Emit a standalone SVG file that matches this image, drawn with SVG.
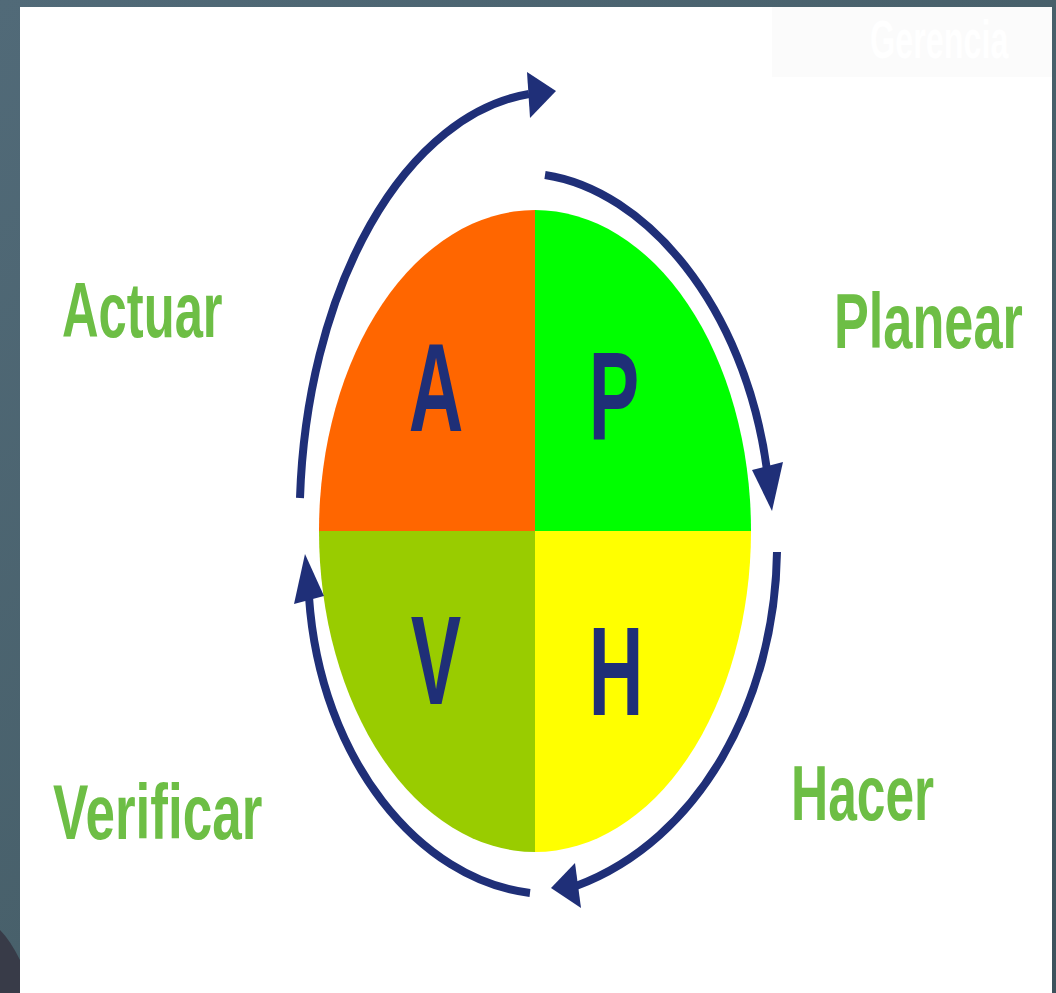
<svg xmlns="http://www.w3.org/2000/svg" width="1056" height="993" viewBox="0 0 1056 993">
  <defs>
    <linearGradient id="bg" x1="0" y1="0" x2="1" y2="1">
      <stop offset="0" stop-color="#516a78"/>
      <stop offset="0.6" stop-color="#465e68"/>
      <stop offset="1" stop-color="#3d525c"/>
    </linearGradient>
  </defs>
  <style>
    .arc { fill: none; stroke: #1f2f78; stroke-width: 8; }
    .head { fill: #1f2f78; }
    .letter { font-family: "Liberation Sans", Arial, sans-serif; font-weight: bold; font-size: 126px; fill: #1f2f77; text-anchor: middle; }
    .label { font-family: "Liberation Sans", Arial, sans-serif; font-weight: bold; font-size: 78px; fill: #6dbe45; }
  </style>

  <!-- backdrop -->
  <rect x="0" y="0" width="1056" height="993" fill="url(#bg)"/>
  <path d="M0,930 Q10,940 20,960 L20,993 L0,993 Z" fill="#383b48"/>
  <rect x="20" y="7" width="1032" height="986" fill="#ffffff"/>
  <rect x="772" y="7" width="280" height="70" fill="#fbfbfb"/>
  <text transform="translate(870,58) scale(0.6,1)" font-family="Liberation Sans, Arial, sans-serif" font-weight="bold" font-size="54" fill="#ffffff">Gerencia</text>

  <!-- quadrants -->
  <g id="node-A">
    <path d="M535,531 L319,531 A216,321 0 0 1 535,210 Z" fill="#ff6600"/>
    <text class="letter" transform="translate(436,431) scale(0.6,1)">A</text>
  </g>
  <g id="node-P">
    <path d="M535,531 L535,210 A216,321 0 0 1 751,531 Z" fill="#00ff00"/>
    <text class="letter" transform="translate(614,440) scale(0.6,1)">P</text>
  </g>
  <g id="node-H">
    <path d="M535,531 L751,531 A216,321 0 0 1 535,852 Z" fill="#ffff00"/>
    <text class="letter" transform="translate(616,715) scale(0.6,1)">H</text>
  </g>
  <g id="node-V">
    <path d="M535,531 L535,852 A216,321 0 0 1 319,531 Z" fill="#99cc00"/>
    <text class="letter" transform="translate(436,704) scale(0.6,1)">V</text>
  </g>

  <!-- labels -->
  <g id="label-actuar"><text class="label" transform="translate(62,337) scale(0.65,1)">Actuar</text></g>
  <g id="label-planear"><text class="label" transform="translate(834,348) scale(0.67,1)">Planear</text></g>
  <g id="label-verificar"><text class="label" transform="translate(53,839) scale(0.68,1)">Verificar</text></g>
  <g id="label-hacer"><text class="label" transform="translate(791,820) scale(0.66,1)">Hacer</text></g>

  <!-- connectors -->
  <g id="connectors">
    <path class="arc" d="M300,498 A255,430 0 0 1 529,94"/>
    <polygon class="head" points="527,72 556,91 530,118"/>

    <path class="arc" d="M545,175 C645,190 745,305 767,470"/>
    <polygon class="head" points="752,470 783,462 772,511"/>

    <path class="arc" d="M777,552 C775,700 700,840 576,886"/>
    <polygon class="head" points="575,863 551,888 581,908"/>

    <path class="arc" d="M530,893 C420,880 320,760 309,597"/>
    <polygon class="head" points="294,604 305,554 324,596"/>
  </g>
</svg>
